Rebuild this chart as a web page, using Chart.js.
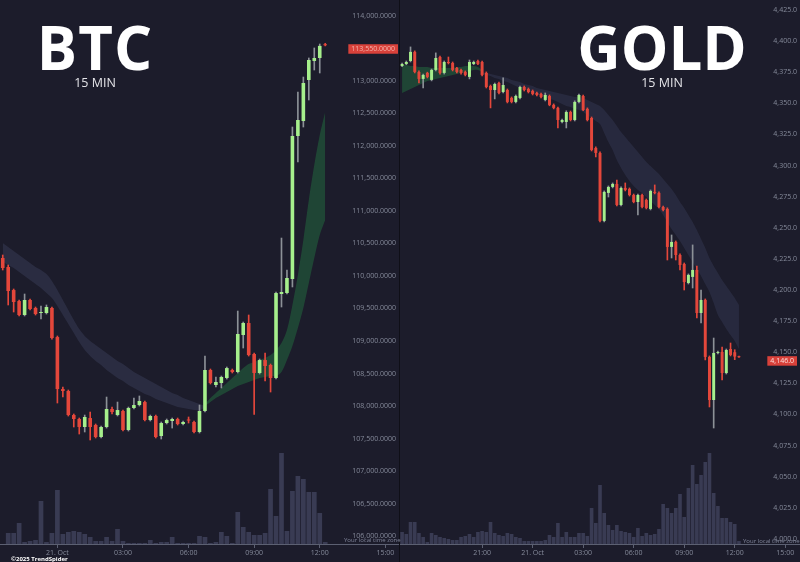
<!DOCTYPE html>
<html><head><meta charset="utf-8">
<script src="https://cdn.jsdelivr.net/npm/chart.js@4.4.1/dist/chart.umd.min.js"></script>
<style>
html,body{margin:0;padding:0;}
body{width:800px;height:562px;background:#1c1c2b;position:relative;overflow:hidden;font-family:'Open Sans',sans-serif;}
canvas{position:absolute;top:0;}
#btc{left:0;}
#gold{left:400px;}
.sep{position:absolute;left:399px;top:0;width:1px;height:562px;background:#0f0f17;}
.ttl{position:absolute;color:#fff;font-weight:700;font-size:60px;line-height:1;text-align:center;white-space:nowrap;}
.sub{position:absolute;color:#e4e4e8;font-size:12.5px;line-height:1;text-align:center;white-space:nowrap;}
.tz{position:absolute;color:#80859a;font-size:6px;line-height:1;white-space:nowrap;}
.copy{position:absolute;left:11px;top:556px;color:#fff;font-size:6px;font-weight:700;line-height:1;white-space:nowrap;}
</style></head>
<body>
<canvas id="btc" width="399" height="562"></canvas>
<div class="sep"></div>
<canvas id="gold" width="400" height="562"></canvas>
<div class="ttl" style="left:0;width:190px;top:17px;letter-spacing:1px">BTC</div>
<div class="sub" style="left:0;width:190px;top:77px">15 MIN</div>
<div class="ttl" style="left:562px;width:200px;top:17px">GOLD</div>
<div class="sub" style="left:562px;width:200px;top:77px">15 MIN</div>
<div class="tz" style="left:344px;top:537px">Your local time zone</div>
<div class="tz" style="left:743px;top:538px">Your local time zone</div>
<div class="copy">©2025 TrendSpider</div>
<script>
// ---------- BTC 15 min (from 20 Oct 21:30) ----------
const btcOpen = [110277,110138,109784,109615,109400,109631,109508,109431,109431,109508,
 109061,108261,108231,107861,107800,107677,107815,107708,107523,107677,
 107954,107861,107923,107631,107969,108015,108061,107784,107846,107538,
 107738,107769,107800,107723,107784,107754,107600,107923,108554,108323,
 108354,108431,108554,108523,109092,109277,108800,108508,108707,108631,
 108431,109723,109738,109954,112154,112384,113015,113308,113354,113565];
const btcHigh = [110323,110169,109800,109631,109723,109646,109523,109538,109554,109523,
 109077,108292,108246,107877,107815,107861,107907,107723,107692,108138,
 107984,108061,107938,107984,108123,108154,108077,107861,107861,107754,
 107800,107815,107815,107769,107831,107769,108015,108769,108569,108446,
 108461,108600,108569,109461,109292,109400,108815,108723,108815,108646,
 109754,110584,110092,112292,112831,113061,113354,113508,113569,113580];
const btcLow = [110092,109554,109446,109385,109385,109477,109400,109338,109415,109030,
 108046,108138,107846,107677,107569,107600,107477,107508,107508,107661,
 107877,107846,107615,107615,107954,108000,107769,107769,107508,107492,
 107723,107661,107708,107708,107738,107584,107584,107908,108338,108292,
 108277,108415,108508,108508,108892,108769,107870,108492,108384,108215,
 108415,109523,109723,109831,111754,112292,112708,113169,113123,113540];
const btcClose = [110123,109769,109600,109400,109631,109492,109415,109446,109523,109046,
 108261,108231,107861,107800,107677,107831,107677,107523,107677,107954,
 107907,107938,107631,107969,108015,108077,107784,107846,107523,107738,
 107784,107800,107723,107754,107777,107600,107923,108554,108354,108369,
 108446,108584,108523,109108,109277,108784,108508,108707,108615,108431,
 109738,109754,109969,112154,112400,112969,113323,113354,113540,113550];
const btcVol = [0,110,110,210,20,30,40,430,20,110,540,100,120,130,120,100,70,30,30,70,
 30,150,30,10,10,10,10,40,10,20,20,70,10,10,10,10,80,70,10,20,
 120,80,10,320,170,120,90,90,110,550,280,910,130,530,680,650,520,520,310,20];
// moving-average cloud (bearish part from candle 0, bullish part from candle 37)
const btcGreyStart = 0;
const btcGreyTop = [110507,110446,110384,110323,110261,110200,110138,110092,110030,109923,
 109784,109630,109477,109323,109184,109077,109000,108938,108877,108815,108754,108692,
 108646,108584,108523,108477,108430,108384,108338,108292,108246,108200,108169,108123,
 108092,108061,108030,108000];
const btcGreyBot = [110215,110169,110123,110061,110000,109938,109877,109815,109738,109661,
 109538,109400,109261,109123,108984,108861,108769,108692,108630,108554,108492,108430,
 108384,108323,108277,108230,108184,108154,108107,108077,108046,108015,107984,107969,
 107954,107938,107938,107969];
const btcGreenStart = 37;
const btcGreenTop = [108030,108123,108200,108277,108354,108430,108507,108584,108646,108677,
 108707,108738,108784,108861,108969,109169,109554,110015,110554,111169,111708,112169,112523];
const btcGreenBot = [108000,108061,108123,108169,108215,108261,108308,108338,108369,108400,
 108430,108446,108461,108461,108523,108707,108923,109200,109507,109892,110277,110630,110861];
const btcTickLabels = {'00:00':'21. Oct','03:00':'03:00','06:00':'06:00','09:00':'09:00','12:00':'12:00','15:00':'15:00'};
const btcPriceTicks = [106000,106500,107000,107500,108000,108500,109000,109500,110000,
 110500,111000,111500,112000,112500,113000,113500,114000];

// ---------- GOLD 15 min (from 20 Oct 16:15) ----------
const goldOpen = [4380.0,4381.6,4384.0,4391.3,4375.2,4369.6,4374.4,4368.8,4376.8,4387.2,
 4374.4,4383.2,4382.4,4378.4,4376.8,4375.2,4371.2,4381.6,4384.0,4383.2,
 4374.4,4363.9,4360.7,4366.3,4359.1,4360.7,4354.3,4351.1,4354.3,4363.1,
 4361.5,4359.9,4358.3,4357.5,4352.7,4355.9,4348.7,4346.3,4335.0,4335.0,
 4343.0,4336.6,4351.1,4355.9,4345.5,4338.2,4314.1,4310.1,4255.5,4278.0,
 4282.8,4285.2,4268.3,4282.0,4281.2,4276.3,4270.7,4276.3,4272.3,4265.1,
 4278.8,4278.0,4266.7,4265.1,4234.6,4238.6,4228.1,4220.9,4205.6,4210.5,
 4216.1,4181.5,4192.0,4146.2,4111.6,4149.4,4150.2,4133.3,4152.6,4150.0,4146.5];
const goldHigh = [4382.4,4384.0,4395.3,4392.1,4376.0,4373.5,4375.0,4377.5,4390.5,4388.0,
 4384.0,4387.2,4383.2,4379.0,4377.5,4376.0,4384.8,4384.0,4384.8,4384.0,
 4375.2,4364.7,4366.3,4367.0,4370.4,4361.5,4355.1,4356.7,4363.9,4363.9,
 4362.3,4360.7,4359.1,4358.3,4358.3,4356.7,4349.5,4347.0,4337.4,4344.0,
 4343.8,4352.0,4357.5,4356.7,4346.3,4339.0,4315.0,4311.0,4279.6,4283.6,
 4286.0,4288.4,4282.8,4286.0,4282.0,4277.1,4277.1,4277.1,4273.1,4280.4,
 4284.4,4278.8,4267.5,4266.0,4244.2,4239.4,4229.0,4221.7,4212.9,4236.2,
 4219.3,4200.0,4192.8,4147.0,4161.4,4151.0,4154.2,4152.6,4157.4,4152.0,4146.8];
const goldLow = [4379.5,4381.0,4383.2,4374.4,4366.3,4362.3,4370.4,4368.0,4376.0,4373.5,
 4373.5,4381.6,4376.0,4374.4,4373.5,4372.0,4369.6,4381.0,4381.0,4372.0,
 4362.3,4346.3,4353.5,4357.5,4358.3,4350.3,4350.3,4350.3,4353.5,4359.9,
 4358.3,4356.7,4355.9,4354.3,4351.9,4348.0,4345.5,4330.2,4334.2,4330.2,
 4335.8,4335.8,4350.3,4344.0,4335.8,4311.7,4306.9,4254.7,4254.7,4274.7,
 4282.0,4267.5,4267.5,4279.6,4275.5,4270.0,4260.3,4266.0,4265.1,4264.3,
 4277.2,4266.0,4263.5,4224.1,4225.7,4224.1,4216.1,4200.0,4204.8,4201.6,
 4177.5,4173.5,4143.8,4106.0,4089.1,4148.6,4127.7,4132.5,4147.0,4144.0,4145.8];
const goldClose = [4381.6,4383.2,4391.3,4375.2,4369.6,4372.8,4371.2,4376.8,4386.4,4374.4,
 4383.2,4382.4,4376.8,4375.2,4374.4,4372.8,4383.2,4383.2,4381.6,4372.8,
 4363.1,4360.7,4365.5,4358.3,4364.7,4351.1,4351.1,4355.9,4363.1,4360.7,
 4359.1,4357.5,4356.7,4355.1,4356.7,4348.7,4346.3,4336.6,4336.6,4343.0,
 4336.6,4351.1,4356.7,4344.6,4336.6,4312.5,4310.1,4255.5,4278.8,4282.8,
 4285.2,4268.3,4282.0,4280.4,4276.3,4270.7,4276.3,4266.7,4265.9,4279.6,
 4278.0,4266.7,4264.3,4234.6,4238.6,4228.1,4220.1,4206.4,4212.1,4216.1,
 4181.5,4192.0,4146.2,4111.6,4149.4,4150.2,4133.3,4151.8,4147.8,4146.5,4146.0];
const goldVol = [1200,1000,2200,2200,1100,700,200,1100,900,700,
 600,500,400,400,700,800,1000,700,1200,1300,
 1200,2200,1100,900,800,1100,1000,700,600,300,
 300,300,300,300,400,900,700,2100,700,1200,
 700,700,1100,1100,800,3600,2100,5900,3100,1900,
 1400,1900,1300,1200,1100,700,1600,800,1100,900,
 1000,1500,4000,3600,3100,3600,5000,2700,5600,7900,
 6000,6900,8200,9100,5100,3800,2600,2600,2200,2000,300];
const goldGreenStart = 0;
const goldGreenTop = [4380.8,4380.8,4380.0,4380.0,4379.2,4379.2,4379.2,4378.4,4378.4,4378.4,
 4378.4,4378.4,4378.4,4379.2,4379.2,4380.0,4380.0,4380.0,4379.2,4376.8];
const goldGreenBot = [4358.3,4359.9,4361.5,4363.1,4364.7,4366.3,4367.9,4368.8,4369.6,4370.4,
 4371.2,4372.0,4372.8,4373.6,4374.4,4375.2,4376.0,4376.8,4376.8,4375.2];
const goldGreyStart = 19;
const goldGreyTop = [4375.2,4374.4,4373.6,4372.8,4372.0,4371.2,4370.4,4368.8,4367.9,4367.1,
 4365.5,4364.7,4363.9,4362.3,4361.5,4360.7,4359.9,4359.1,4358.3,4357.5,
 4356.7,4355.9,4355.1,4355.1,4354.3,4352.7,4351.1,4349.5,4347.9,4344.6,
 4340.6,4336.6,4331.8,4326.9,4323.0,4318.9,4314.9,4310.9,4306.9,4302.9,
 4299.6,4296.4,4293.2,4289.2,4285.2,4281.2,4276.3,4270.7,4265.9,4260.3,
 4254.7,4248.2,4241.0,4233.8,4225.7,4219.3,4213.7,4208.0,4203.2,4198.4,4193.6,4188.0];
const goldGreyBot = [4373.6,4372.8,4372.0,4370.4,4369.6,4367.9,4367.1,4365.5,4363.9,4362.3,
 4361.5,4359.9,4358.3,4357.5,4355.9,4355.1,4353.5,4352.7,4351.1,4349.5,
 4347.9,4347.1,4345.5,4344.6,4343.0,4340.6,4338.2,4335.8,4333.4,4326.2,
 4318.9,4312.5,4304.4,4298.0,4292.4,4287.6,4283.6,4280.4,4278.0,4274.7,
 4271.5,4268.3,4265.1,4260.3,4254.7,4249.0,4244.2,4239.4,4233.8,4228.1,
 4222.5,4216.9,4211.3,4204.8,4198.4,4189.5,4179.9,4174.3,4168.7,4163.8,4159.0,4152.6];
const goldTickLabels = {'21:00':'21:00','00:00':'21. Oct','03:00':'03:00','06:00':'06:00','09:00':'09:00','12:00':'12:00','15:00':'15:00'};
const goldPriceTicks = [4000,4025,4050,4075,4100,4125,4150,4175,4200,4225,4250,4275,
 4300,4325,4350,4375,4400,4425];

// ---------- helpers ----------
function makeSlots(h, m, n) {
  const out = [];
  const start = h * 60 + m;
  for (let k = 0; k < n; k++) {
    const t = (start + 15 * k) % 1440;
    out.push(String(Math.floor(t / 60)).padStart(2, '0') + ':' + String(t % 60).padStart(2, '0'));
  }
  return out;
}
function pad(start, arr) { return new Array(start).fill(null).concat(arr); }

const UP = '#a6ef8c', DOWN = '#e4473b', UPWICK = '#8c9197';
const AXIS = '#5c6072', TICKC = '#858a9a', VOLC = '#393b53';

const lastPricePlugin = {
  id: 'lastPrice',
  afterDraw(chart, args, o) {
    const ctx = chart.ctx;
    const y = chart.scales.y.getPixelForValue(o.value);
    ctx.save();
    ctx.font = '7px "Open Sans"';
    const w = ctx.measureText(o.text).width;
    const right = chart.chartArea.right - o.inset;
    ctx.fillStyle = o.bg;
    ctx.fillRect(right - w - 6, y - 1, w + 6, 9.5);
    ctx.fillStyle = o.color;
    ctx.textAlign = 'right';
    ctx.textBaseline = 'middle';
    ctx.fillText(o.text, right - 3, y + 3.9);
    ctx.restore();
  }
};

function buildChart(id, c) {
  const dir = c.open.map((o, i) => c.close[i] >= o);
  const last = c.close[c.close.length - 1];
  const fmt = v => v.toLocaleString('en-US', { minimumFractionDigits: c.dec, maximumFractionDigits: c.dec });
  const datasets = [
    { type: 'bar', data: c.open.map((o, i) => [o, c.close[i]]), backgroundColor: dir.map(u => u ? UP : DOWN),
      barPercentage: c.bodyPct, categoryPercentage: 1, grouped: false, minBarLength: 1, order: 0, yAxisID: 'y' },
    { type: 'bar', data: c.low.map((l, i) => [l, c.high[i]]), backgroundColor: dir.map(u => u ? UPWICK : DOWN),
      barThickness: 1, grouped: false, order: 1, yAxisID: 'y' },
    { type: 'line', data: pad(c.greyStart, c.greyTop), borderColor: 'rgba(0,0,0,0)', borderWidth: 0, pointRadius: 0,
      fill: false, tension: 0.3, order: 2, yAxisID: 'y' },
    { type: 'line', data: pad(c.greyStart, c.greyBot), borderColor: 'rgba(0,0,0,0)', borderWidth: 0, pointRadius: 0,
      fill: '-1', backgroundColor: c.greyColor, tension: 0.3, order: 2, yAxisID: 'y' },
    { type: 'line', data: pad(c.greenStart, c.greenTop), borderColor: 'rgba(0,0,0,0)', borderWidth: 0, pointRadius: 0,
      fill: false, tension: 0.3, order: 3, yAxisID: 'y' },
    { type: 'line', data: pad(c.greenStart, c.greenBot), borderColor: 'rgba(0,0,0,0)', borderWidth: 0, pointRadius: 0,
      fill: '-1', backgroundColor: c.greenColor, tension: 0.3, order: 3, yAxisID: 'y' },
    { type: 'bar', data: c.vol, backgroundColor: VOLC, barPercentage: 0.86, categoryPercentage: 1,
      grouped: false, order: 5, yAxisID: 'v' }
  ];
  return new Chart(document.getElementById(id), {
    type: 'bar',
    data: { labels: c.slots, datasets },
    plugins: [lastPricePlugin],
    options: {
      responsive: false, animation: false, devicePixelRatio: 1, events: [],
      layout: { padding: 0 },
      plugins: {
        legend: { display: false }, tooltip: { enabled: false },
        lastPrice: { value: last, text: fmt(last), bg: '#d8413a', color: c.boxText, inset: c.boxInset }
      },
      scales: {
        x: {
          type: 'category', offset: true,
          grid: { display: true, drawOnChartArea: false, drawTicks: true, tickLength: 4, offset: false,
            color: g => c.tickLabels[c.slots[g.index]] ? AXIS : 'rgba(0,0,0,0)' },
          border: { display: true, color: AXIS, width: 1 },
          ticks: { autoSkip: false, maxRotation: 0, minRotation: 0, padding: 1, color: TICKC,
            font: { family: 'Open Sans', size: 7 },
            callback: (v, i) => c.tickLabels[c.slots[i]] || '' },
          afterFit: s => { s.height = 18; s.paddingLeft = 0; s.paddingRight = 0; }
        },
        y: {
          position: 'right', min: c.yMin, max: c.yMax,
          grid: { display: false }, border: { display: false },
          ticks: { mirror: true, padding: -3, color: TICKC,
            font: { family: 'Open Sans', size: 7 }, callback: v => fmt(v) },
          afterBuildTicks: s => { s.ticks = c.priceTicks.map(v => ({ value: v })); },
          afterFit: s => { s.width = 0; s.paddingTop = 0; s.paddingBottom = 0; }
        },
        v: { display: false, min: 0, max: c.vMax }
      }
    }
  });
}

buildChart('btc', {
  open: btcOpen, high: btcHigh, low: btcLow, close: btcClose, vol: btcVol,
  slots: makeSlots(21, 30, 73), tickLabels: btcTickLabels, priceTicks: btcPriceTicks,
  greyStart: btcGreyStart, greyTop: btcGreyTop, greyBot: btcGreyBot,
  greenStart: btcGreenStart, greenTop: btcGreenTop, greenBot: btcGreenBot,
  greyColor: 'rgba(62,66,96,0.42)', greenColor: 'rgba(34,92,58,0.65)',
  yMin: 105877, yMax: 114246, dec: 4, vMax: 5440, bodyPct: 0.66,
  boxText: '#f4b2aa', boxInset: 1
});
buildChart('gold', {
  open: goldOpen, high: goldHigh, low: goldLow, close: goldClose, vol: goldVol,
  slots: makeSlots(16, 15, 95), tickLabels: goldTickLabels, priceTicks: goldPriceTicks,
  greyStart: goldGreyStart, greyTop: goldGreyTop, greyBot: goldGreyBot,
  greenStart: goldGreenStart, greenTop: goldGreenTop, greenBot: goldGreenBot,
  greyColor: 'rgba(62,66,96,0.36)', greenColor: 'rgba(34,92,58,0.65)',
  yMin: 3995.9, yMax: 4433.0, dec: 1, vMax: 54400, bodyPct: 0.7,
  boxText: '#fde0dc', boxInset: 3
});
</script>
</body></html>
